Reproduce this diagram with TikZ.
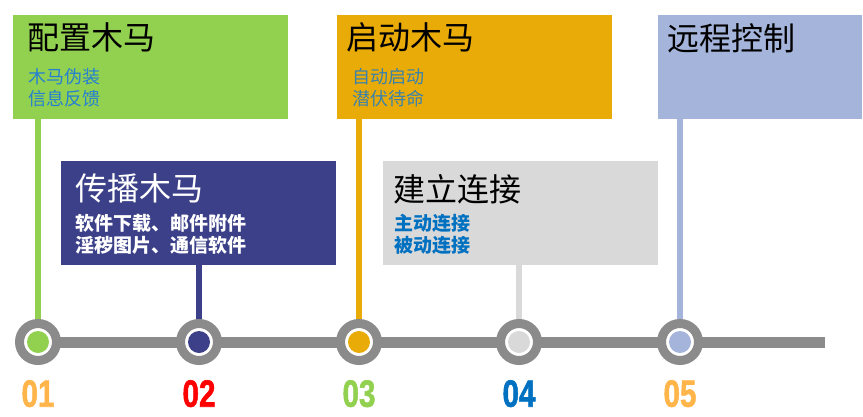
\documentclass[tikz,border=0pt]{standalone}
\usepackage{fontspec}
\usepackage{tikz}
\usetikzlibrary{positioning}
\newfontfamily\cjk{Noto Sans CJK SC}
\newfontfamily\numfont[BoldFeatures={FakeBold=1.6}]{Liberation Sans}
\definecolor{cgreen}{HTML}{92D050}
\definecolor{cnavy}{HTML}{3B4088}
\definecolor{corange}{HTML}{E9AB08}
\definecolor{clight}{HTML}{D9D9D9}
\definecolor{cslate}{HTML}{A5B4DA}
\definecolor{ctrack}{HTML}{8B8B8B}
\definecolor{tblue}{HTML}{2580D3}
\definecolor{tteal}{HTML}{3A82AC}
\definecolor{tdeep}{HTML}{0070C0}
\definecolor{nyellow}{HTML}{FFB54A}
\definecolor{nred}{HTML}{FF0000}
\tikzset{
  stage/.style={rectangle, inner sep=0pt, minimum width=275pt, minimum height=104pt, anchor=north west},
  ttl/.style={inner sep=0pt, font=\cjk\fontsize{32}{36}\selectfont},
  sub/.style={inner sep=0pt, align=left, font=\cjk\fontsize{18}{22}\selectfont},
  subb/.style={sub, font=\cjk\bfseries\fontsize{19}{22}\selectfont},
  ring/.style={circle, draw=ctrack, line width=9pt, fill=white, minimum size=37pt, inner sep=0pt},
  dot/.style={circle, minimum size=22pt, inner sep=0pt},
  stem/.style={line width=6pt},
  track/.style={line width=11pt, ctrack},
  num/.style={inner sep=0pt, font=\numfont\bfseries\fontsize{38}{40}\selectfont},
}
\begin{document}
\begin{tikzpicture}[x=1pt, y=-1pt]
  \useasboundingbox (0,0) rectangle (863,416);
  % stages
  \node[stage, fill=cgreen] (cfg) at (13,15) {};
  \node[stage, fill=cnavy] (spr) at (61,161) {};
  \node[stage, fill=corange] (run) at (337,15) {};
  \node[stage, fill=clight] (conn) at (383,161) {};
  \node[stage, fill=cslate, minimum width=204pt] (ctrl) at (658,15) {};
  \node[ttl, below right=7pt and 14pt of cfg.north west] (cfgt) {配置木马};
  \node[sub, text=tblue, below right=53pt and 15pt of cfg.north west] (cfgs) {木马伪装\\信息反馈};
  \node[ttl, text=white, below right=12pt and 14pt of spr.north west] (sprt) {传播木马};
  \node[subb, text=white, below right=53pt and 14pt of spr.north west] (sprs) {软件下载、邮件附件\\淫秽图片、通信软件};
  \node[ttl, below right=7pt and 9pt of run.north west] (runt) {启动木马};
  \node[sub, text=tteal, below right=53pt and 15pt of run.north west] (runs) {自动启动\\潜伏待命};
  \node[ttl, below right=13pt and 10pt of conn.north west] (connt) {建立连接};
  \node[subb, text=tdeep, below right=53pt and 11pt of conn.north west] (conns) {主动连接\\被动连接};
  \node[ttl, below right=8pt and 9pt of ctrl.north west] (ctrlt) {远程控制};
  % timeline
  \coordinate (t1) at (38,342);
  \coordinate (t2) at (199,342);
  \coordinate (t3) at (359,342);
  \coordinate (t4) at (519,342);
  \coordinate (t5) at (680,342);
  \coordinate (tend) at (825,342);
  \draw[track] (t1) -- (tend);
  \draw[stem, cgreen] (t1 |- cfg.south) -- (t1);
  \draw[stem, cnavy] (t2 |- spr.south) -- (t2);
  \draw[stem, corange] (t3 |- run.south) -- (t3);
  \draw[stem, clight] (t4 |- conn.south) -- (t4);
  \draw[stem, cslate] (t5 |- ctrl.south) -- (t5);
  \node[ring] (p1) at (t1) {};
  \node[ring] (p2) at (t2) {};
  \node[ring] (p3) at (t3) {};
  \node[ring] (p4) at (t4) {};
  \node[ring] (p5) at (t5) {};
  \node[dot, fill=cgreen] at (p1) {};
  \node[dot, fill=cnavy] at (p2) {};
  \node[dot, fill=corange] at (p3) {};
  \node[dot, fill=clight] at (p4) {};
  \node[dot, fill=cslate] at (p5) {};
  \node[num, text=nyellow, below=15pt of p1] (n1) {\scalebox{0.78}[1]{01}};
  \node[num, text=nred, below=15pt of p2] (n2) {\scalebox{0.78}[1]{02}};
  \node[num, text=cgreen, below=15pt of p3] (n3) {\scalebox{0.78}[1]{03}};
  \node[num, text=tdeep, below=15pt of p4] (n4) {\scalebox{0.78}[1]{04}};
  \node[num, text=nyellow, below=15pt of p5] (n5) {\scalebox{0.78}[1]{05}};
\end{tikzpicture}
\end{document}
